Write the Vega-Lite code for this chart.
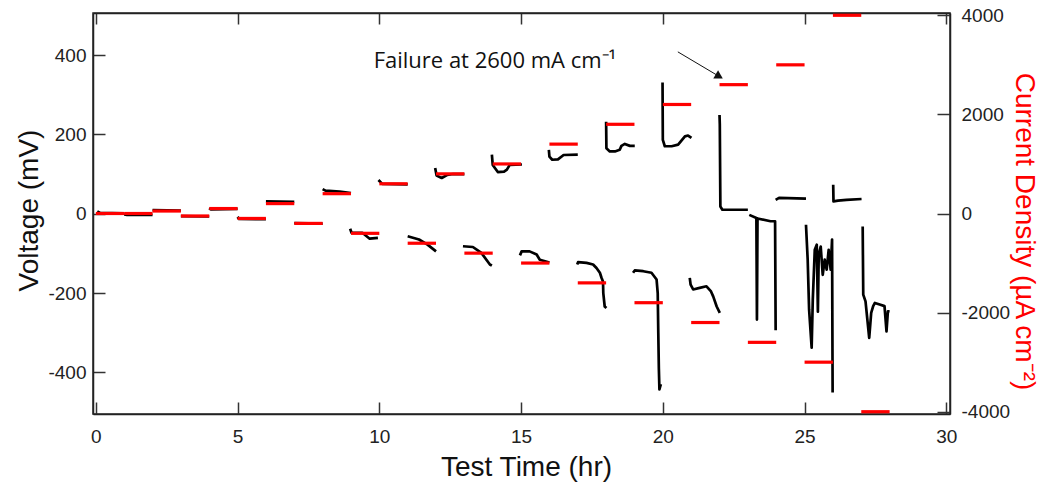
{
  "$schema": "https://vega.github.io/schema/vega-lite/v6.json",
  "width": 857,
  "height": 401,
  "autosize": "none",
  "padding": {"left": 93, "top": 13, "right": 106, "bottom": 73},
  "background": "white",
  "config": {
    "view": {"stroke": "#222", "strokeWidth": 1.5},
    "font": "Liberation Sans",
    "axis": {
      "labelFont": "Liberation Sans", "labelFontSize": 19, "labelColor": "#222",
      "titleFont": "Liberation Sans", "titleFontSize": 28, "titleFontWeight": "normal", "titleColor": "#111",
      "tickColor": "#333", "tickWidth": 1.5, "domainColor": "#222", "domainWidth": 1.5,
      "grid": false, "labelExpr": "'' + datum.value"
    }
  },
  "datasets": {
    "volt": [
      {"s": 1, "t": 0.05, "v": 6}, {"s": 1, "t": 0.15, "v": 2}, {"s": 1, "t": 1.0, "v": 1},
      {"s": 2, "t": 1.0, "v": -2}, {"s": 2, "t": 1.1, "v": -3}, {"s": 2, "t": 2.0, "v": -3},
      {"s": 3, "t": 2.0, "v": 9}, {"s": 3, "t": 3.0, "v": 8},
      {"s": 4, "t": 3.0, "v": -6}, {"s": 4, "t": 4.0, "v": -7},
      {"s": 5, "t": 4.0, "v": 14}, {"s": 5, "t": 4.05, "v": 11}, {"s": 5, "t": 5.0, "v": 12},
      {"s": 6, "t": 5.0, "v": -8}, {"s": 6, "t": 5.05, "v": -13}, {"s": 6, "t": 6.0, "v": -14},
      {"s": 7, "t": 6.0, "v": 31}, {"s": 7, "t": 7.0, "v": 30},
      {"s": 8, "t": 7.0, "v": -24}, {"s": 8, "t": 8.0, "v": -25},
      {"s": 9, "t": 8.0, "v": 62}, {"s": 9, "t": 8.1, "v": 58}, {"s": 9, "t": 8.6, "v": 56}, {"s": 9, "t": 9.0, "v": 52},
      {"s": 10, "t": 8.97, "v": -38}, {"s": 10, "t": 9.02, "v": -48}, {"s": 10, "t": 9.4, "v": -48}, {"s": 10, "t": 9.66, "v": -63}, {"s": 10, "t": 9.95, "v": -61},
      {"s": 11, "t": 9.97, "v": 85}, {"s": 11, "t": 10.1, "v": 75}, {"s": 11, "t": 11.0, "v": 74},
      {"s": 12, "t": 11.0, "v": -57}, {"s": 12, "t": 11.4, "v": -65}, {"s": 12, "t": 11.7, "v": -78}, {"s": 12, "t": 12.0, "v": -95},
      {"s": 13, "t": 11.97, "v": 115}, {"s": 13, "t": 12.02, "v": 96}, {"s": 13, "t": 12.2, "v": 90}, {"s": 13, "t": 12.4, "v": 98}, {"s": 13, "t": 12.6, "v": 100}, {"s": 13, "t": 13.0, "v": 100},
      {"s": 14, "t": 12.95, "v": -82}, {"s": 14, "t": 13.3, "v": -84}, {"s": 14, "t": 13.6, "v": -99}, {"s": 14, "t": 13.9, "v": -128}, {"s": 14, "t": 13.97, "v": -131},
      {"s": 15, "t": 13.97, "v": 149}, {"s": 15, "t": 14.0, "v": 123}, {"s": 15, "t": 14.18, "v": 105}, {"s": 15, "t": 14.4, "v": 106}, {"s": 15, "t": 14.5, "v": 111}, {"s": 15, "t": 14.6, "v": 123}, {"s": 15, "t": 15.03, "v": 124},
      {"s": 16, "t": 14.96, "v": -105}, {"s": 16, "t": 15.02, "v": -95}, {"s": 16, "t": 15.3, "v": -95}, {"s": 16, "t": 15.55, "v": -103}, {"s": 16, "t": 15.66, "v": -116}, {"s": 16, "t": 16.0, "v": -123},
      {"s": 17, "t": 15.98, "v": 161}, {"s": 17, "t": 16.0, "v": 144}, {"s": 17, "t": 16.1, "v": 136}, {"s": 17, "t": 16.3, "v": 137}, {"s": 17, "t": 16.5, "v": 148}, {"s": 17, "t": 17.0, "v": 149},
      {"s": 18, "t": 16.98, "v": -128}, {"s": 18, "t": 17.01, "v": -122}, {"s": 18, "t": 17.31, "v": -124}, {"s": 18, "t": 17.54, "v": -128}, {"s": 18, "t": 17.66, "v": -137}, {"s": 18, "t": 17.78, "v": -149}, {"s": 18, "t": 17.84, "v": -162}, {"s": 18, "t": 17.89, "v": -171}, {"s": 18, "t": 17.9, "v": -200}, {"s": 18, "t": 17.95, "v": -234}, {"s": 18, "t": 18.01, "v": -238},
      {"s": 19, "t": 18.0, "v": 232}, {"s": 19, "t": 18.01, "v": 165}, {"s": 19, "t": 18.13, "v": 157}, {"s": 19, "t": 18.31, "v": 157}, {"s": 19, "t": 18.48, "v": 161}, {"s": 19, "t": 18.54, "v": 171}, {"s": 19, "t": 18.66, "v": 176}, {"s": 19, "t": 18.84, "v": 171}, {"s": 19, "t": 19.01, "v": 171},
      {"s": 20, "t": 18.95, "v": -149}, {"s": 20, "t": 19.01, "v": -143}, {"s": 20, "t": 19.31, "v": -145}, {"s": 20, "t": 19.6, "v": -149}, {"s": 20, "t": 19.78, "v": -166}, {"s": 20, "t": 19.82, "v": -200}, {"s": 20, "t": 19.84, "v": -300}, {"s": 20, "t": 19.86, "v": -390}, {"s": 20, "t": 19.88, "v": -443}, {"s": 20, "t": 19.93, "v": -430},
      {"s": 21, "t": 19.99, "v": 331}, {"s": 21, "t": 20.0, "v": 186}, {"s": 21, "t": 20.07, "v": 170}, {"s": 21, "t": 20.31, "v": 170}, {"s": 21, "t": 20.54, "v": 174}, {"s": 21, "t": 20.78, "v": 195}, {"s": 21, "t": 20.89, "v": 197}, {"s": 21, "t": 21.01, "v": 191},
      {"s": 22, "t": 20.95, "v": -162}, {"s": 22, "t": 20.98, "v": -179}, {"s": 22, "t": 21.07, "v": -191}, {"s": 22, "t": 21.3, "v": -187}, {"s": 22, "t": 21.54, "v": -183}, {"s": 22, "t": 21.7, "v": -196}, {"s": 22, "t": 21.78, "v": -209}, {"s": 22, "t": 21.9, "v": -234}, {"s": 22, "t": 22.01, "v": -250},
      {"s": 23, "t": 22.0, "v": 249}, {"s": 23, "t": 22.01, "v": 225}, {"s": 23, "t": 22.03, "v": 18}, {"s": 23, "t": 22.1, "v": 10}, {"s": 23, "t": 23.0, "v": 10},
      {"s": 24, "t": 23.05, "v": -3}, {"s": 24, "t": 23.3, "v": -11}, {"s": 24, "t": 23.32, "v": -267}, {"s": 24, "t": 23.34, "v": -12}, {"s": 24, "t": 23.8, "v": -19}, {"s": 24, "t": 23.96, "v": -19}, {"s": 24, "t": 23.98, "v": -294},
      {"s": 25, "t": 23.98, "v": 35}, {"s": 25, "t": 24.1, "v": 40}, {"s": 25, "t": 25.05, "v": 38},
      {"s": 26, "t": 25.05, "v": -28}, {"s": 26, "t": 25.11, "v": -116}, {"s": 26, "t": 25.16, "v": -242}, {"s": 26, "t": 25.25, "v": -338}, {"s": 26, "t": 25.29, "v": -217}, {"s": 26, "t": 25.36, "v": -91}, {"s": 26, "t": 25.43, "v": -78}, {"s": 26, "t": 25.47, "v": -247}, {"s": 26, "t": 25.5, "v": -103}, {"s": 26, "t": 25.57, "v": -83}, {"s": 26, "t": 25.64, "v": -154}, {"s": 26, "t": 25.71, "v": -116}, {"s": 26, "t": 25.78, "v": -141}, {"s": 26, "t": 25.85, "v": -91}, {"s": 26, "t": 25.92, "v": -141}, {"s": 26, "t": 25.97, "v": -65}, {"s": 26, "t": 25.99, "v": -451},
      {"s": 27, "t": 26.01, "v": 73}, {"s": 27, "t": 26.02, "v": 31}, {"s": 27, "t": 26.18, "v": 33}, {"s": 27, "t": 26.48, "v": 35}, {"s": 27, "t": 27.01, "v": 37},
      {"s": 28, "t": 27.05, "v": -32}, {"s": 28, "t": 27.07, "v": -204}, {"s": 28, "t": 27.15, "v": -221}, {"s": 28, "t": 27.28, "v": -313}, {"s": 28, "t": 27.35, "v": -250}, {"s": 28, "t": 27.42, "v": -233}, {"s": 28, "t": 27.48, "v": -225}, {"s": 28, "t": 27.65, "v": -229}, {"s": 28, "t": 27.82, "v": -233}, {"s": 28, "t": 27.89, "v": -297}, {"s": 28, "t": 27.94, "v": -246}, {"s": 28, "t": 28.0, "v": -246}
    ],
    "current": [
      {"t0": 0, "t1": 1, "j": 0}, {"t0": 1, "t1": 2, "j": 0},
      {"t0": 2, "t1": 3, "j": 50}, {"t0": 3, "t1": 4, "j": -50},
      {"t0": 4, "t1": 5, "j": 100}, {"t0": 5, "t1": 6, "j": -100},
      {"t0": 6, "t1": 7, "j": 200}, {"t0": 7, "t1": 8, "j": -200},
      {"t0": 8, "t1": 9, "j": 400}, {"t0": 9, "t1": 10, "j": -400},
      {"t0": 10, "t1": 11, "j": 600}, {"t0": 11, "t1": 12, "j": -600},
      {"t0": 12, "t1": 13, "j": 800}, {"t0": 13, "t1": 14, "j": -800},
      {"t0": 14, "t1": 15, "j": 1000}, {"t0": 15, "t1": 16, "j": -1000},
      {"t0": 16, "t1": 17, "j": 1400}, {"t0": 17, "t1": 18, "j": -1400},
      {"t0": 18, "t1": 19, "j": 1800}, {"t0": 19, "t1": 20, "j": -1800},
      {"t0": 20, "t1": 21, "j": 2200}, {"t0": 21, "t1": 22, "j": -2200},
      {"t0": 22, "t1": 23, "j": 2600}, {"t0": 23, "t1": 24, "j": -2600},
      {"t0": 24, "t1": 25, "j": 3000}, {"t0": 25, "t1": 26, "j": -3000},
      {"t0": 26, "t1": 27, "j": 4000}, {"t0": 27, "t1": 28, "j": -4000}
    ],
    "note": [{"t": 9.8, "v": 368, "label": "Failure at 2600 mA cm⁻¹"}],
    "arrow": [{"t": 20.53, "v": 408, "t2": 21.99, "v2": 346}]
  },
  "layer": [
    {
      "layer": [
        {
          "data": {"name": "volt"},
          "mark": {"type": "line", "color": "black", "strokeWidth": 2.7, "strokeJoin": "round"},
          "encoding": {
            "x": {"field": "t", "type": "quantitative",
                  "scale": {"domain": [-0.1, 30.13], "nice": false, "zero": false},
                  "axis": {"orient": "bottom", "title": "Test Time (hr)", "values": [0, 5, 10, 15, 20, 25, 30],
                           "tickSize": -12, "labelPadding": 25, "titleX": 433, "titleY": 61, "titleBaseline": "alphabetic", "titleAnchor": "middle", "titleAlign": "center"}},
            "y": {"field": "v", "type": "quantitative",
                  "scale": {"domain": [-505, 506], "nice": false, "zero": false},
                  "axis": {"orient": "left", "title": "Voltage (mV)", "values": [-400, -200, 0, 200, 400],
                           "tickSize": -12, "labelPadding": 19, "titleX": -56, "titleY": 197, "titleAngle": -90, "titleBaseline": "alphabetic", "titleAlign": "center"}},
            "detail": {"field": "s", "type": "nominal"}
          }
        },
        {
          "data": {"name": "note"},
          "mark": {"type": "text", "align": "left", "baseline": "alphabetic", "font": "Open Sans", "fontSize": 22, "color": "#111"},
          "encoding": {
            "x": {"field": "t", "type": "quantitative"},
            "y": {"field": "v", "type": "quantitative"},
            "text": {"field": "label"}
          }
        },
        {
          "data": {"name": "arrow"},
          "mark": {"type": "rule", "color": "#111", "strokeWidth": 1},
          "encoding": {
            "x": {"field": "t", "type": "quantitative"},
            "y": {"field": "v", "type": "quantitative"},
            "x2": {"field": "t2"},
            "y2": {"field": "v2"}
          }
        },
        {
          "data": {"name": "arrow"},
          "mark": {"type": "point", "shape": "triangle-right", "angle": 30, "size": 90, "filled": true, "color": "#111", "opacity": 1},
          "encoding": {
            "x": {"field": "t2", "type": "quantitative"},
            "y": {"field": "v2", "type": "quantitative"}
          }
        }
      ]
    },
    {
      "data": {"name": "current"},
      "mark": {"type": "rule", "color": "#ff0000", "strokeWidth": 3.2},
      "encoding": {
        "x": {"field": "t0", "type": "quantitative",
              "axis": {"orient": "top", "title": null, "labels": false, "values": [0, 5, 10, 15, 20, 25, 30], "tickSize": -11}},
        "x2": {"field": "t1"},
        "y": {"field": "j", "type": "quantitative",
              "scale": {"domain": [-4046, 4046], "nice": false, "zero": false},
              "axis": {"orient": "right", "title": "Current Density (µA cm⁻²)", "titleColor": "#ff0000", "values": [-4000, -2000, 0, 2000, 4000],
                       "tickSize": -13, "labelPadding": 24, "titleX": 65, "titleY": 218, "titleAngle": 90, "titleBaseline": "alphabetic", "titleAlign": "center"}}
      }
    }
  ],
  "resolve": {"scale": {"y": "independent"}, "axis": {"y": "independent", "x": "independent"}}
}
